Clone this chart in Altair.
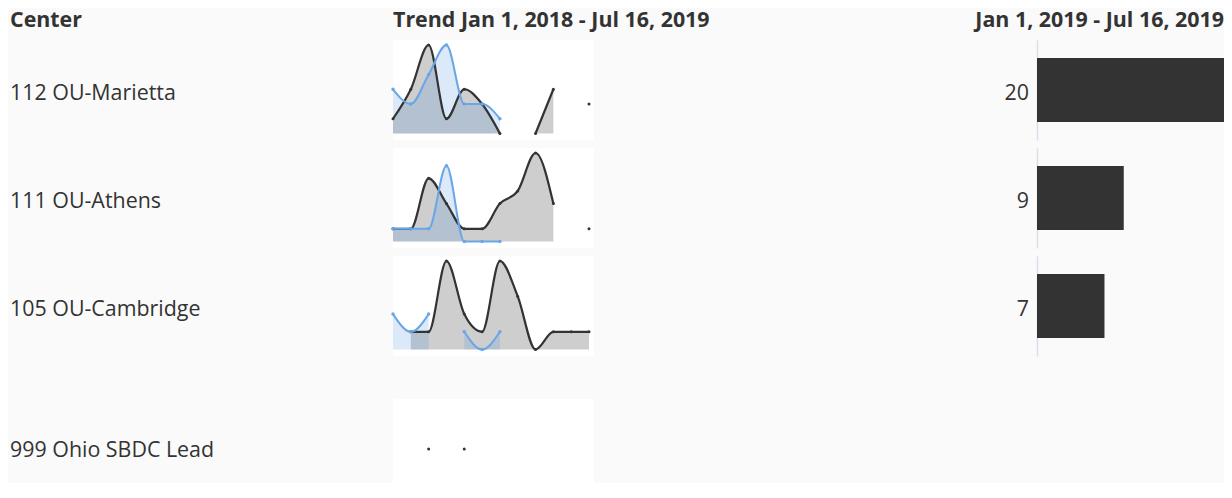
import altair as alt
import pandas as pd

# ---------------- data ----------------
centers = ["112 OU-Marietta", "111 OU-Athens", "105 OU-Cambridge", "999 Ohio SBDC Lead"]
month_index = [1, 2, 3, 4, 5, 6, 7, 8, 9, 10, 11, 12]
trend_2018 = [
    [1, 3, 6, 1, 3, 2, 0, None, 0, 3, None, 2],
    [1, 1, 5, 3, 1, 1, 3, 4, 7, 3, None, 1],
    [None, 1, 1, 5, 2, 1, 5, 3, 0, 1, 1, 1],
    [None, None, 0, None, 0, None, None, None, None, None, None, None],
]
trend_2019 = [
    [3, 2, 4, 6, 2, 2, 1],
    [1, 1, 1, 6, 0, 0, 0],
    [2, 1, 2, None, 1, 0, 1],
    [],
]
ytd_totals = [20, 9, 7, None]

header_center = "Center"
header_trend = "Trend Jan 1, 2018 - Jul 16, 2019"
header_total = "Jan 1, 2019 - Jul 16, 2019"

# ---------------- style ----------------
FONT = "Open Sans"
INK = "#333333"
BLUE = "#4a90e2"
BLUE_LINE = "#6aa6e6"
BG = "#fafafa"
FS = 21.4

LABEL_W = 385
SPARK_W = 201
GAP_W = 443
BAR_W = 187
ROW_H = 100
LAST_H = 84
HEAD_H = 24
INVALID = "break-paths-show-domains"


def blank(w, h):
    return alt.Chart(pd.DataFrame({"s": [0]})).mark_rect(opacity=0).encode(
        x=alt.value(0), x2=alt.value(1), y=alt.value(0), y2=alt.value(1)
    ).properties(width=w, height=h)


def head(text, w, align, x):
    return alt.Chart(pd.DataFrame({"t": [text]})).mark_text(
        align=align, baseline="alphabetic", font=FONT, fontSize=FS,
        fontWeight="bold", color=INK
    ).encode(x=alt.value(x), y=alt.value(19), text="t:N").properties(width=w, height=HEAD_H)


header = alt.hconcat(
    head(header_center, LABEL_W, "left", 2),
    head(header_trend, SPARK_W, "left", 0),
    head(header_total, GAP_W + BAR_W, "right", GAP_W + BAR_W),
    spacing=0, bounds="flush",
)

rows = [header]
for i, name in enumerate(centers):
    last = ytd_totals[i] is None
    h = LAST_H if last else ROW_H
    ty = 52 if last else 54

    # label column
    lab = alt.Chart(pd.DataFrame({"center": [name]})).mark_text(
        align="left", baseline="middle", font=FONT, fontSize=FS, color=INK
    ).encode(x=alt.value(2), y=alt.value(ty), text="center:N")
    lab = lab.properties(width=LABEL_W, height=h)

    # sparkline column
    recs = []
    for m, v in zip(month_index, trend_2018[i]):
        recs.append({"month": m, "series": "2018", "value": v})
    for m, v in zip(month_index, trend_2019[i]):
        recs.append({"month": m, "series": "2019", "value": v})
    sdf = pd.DataFrame(recs, columns=["month", "series", "value"])
    vals = [v for v in trend_2018[i] + trend_2019[i] if v is not None]
    vmax = max(vals) if vals else 0
    if vmax > 0:
        span = vmax / 0.885
        ydom = [-0.065 * span, 0.935 * span]
    else:
        ydom = [-(h - 50), 50]

    base = alt.Chart(sdf).encode(
        x=alt.X("month:Q", scale=alt.Scale(domain=[1, 12.28], nice=False, zero=False), axis=None),
        y=alt.Y("value:Q", scale=alt.Scale(domain=ydom, nice=False, zero=False), axis=None),
    )
    s18 = base.transform_filter(alt.datum.series == "2018")
    s19 = base.transform_filter(alt.datum.series == "2019")
    spark = alt.layer(
        s18.mark_area(color=INK, opacity=0.24, interpolate="monotone", invalid=INVALID),
        s19.mark_area(color=BLUE, opacity=0.2, interpolate="monotone", invalid=INVALID),
        s18.mark_line(color=INK, strokeWidth=2.2, interpolate="monotone", invalid=INVALID),
        s19.mark_line(color=BLUE_LINE, strokeWidth=2, interpolate="monotone", invalid=INVALID),
        s18.mark_point(filled=True, size=9, color=INK, opacity=1, invalid=INVALID),
        s19.mark_point(filled=True, size=12, color=BLUE_LINE, opacity=1, invalid=INVALID),
    ).properties(width=SPARK_W, height=h, view=alt.ViewBackground(fill="white", stroke=None))

    parts = [lab, spark]

    # total column: value label + bar
    if not last:
        bdf = pd.DataFrame({"center": [name], "label": [str(ytd_totals[i])],
                            "total": [ytd_totals[i]]})
        val = alt.Chart(bdf).mark_text(
            align="right", baseline="middle", font=FONT, fontSize=FS, color=INK
        ).encode(x=alt.value(GAP_W - 8), y=alt.value(ty), text="label:N").properties(
            width=GAP_W, height=ROW_H)
        bar = alt.Chart(bdf).mark_bar(color=INK, size=64, clip=True).encode(
            x=alt.X("total:Q", scale=alt.Scale(domain=[0, 19.4], nice=False, zero=True), axis=None),
            y=alt.Y("center:N", title=None, axis=alt.Axis(
                labels=False, ticks=False, grid=False, title=None,
                domainColor="#d9dee8", domainWidth=1.5)),
        ).properties(width=BAR_W, height=ROW_H)
        parts += [val, bar]
    else:
        rows.append(blank(1, 27))

    rows.append(alt.hconcat(*parts, spacing=0, bounds="flush"))

chart = alt.vconcat(*rows, spacing=8, bounds="full").properties(
    padding=0, background=BG
).configure_view(stroke=None)

chart.save("out.html", embed_options={"renderer": "svg", "actions": False})
